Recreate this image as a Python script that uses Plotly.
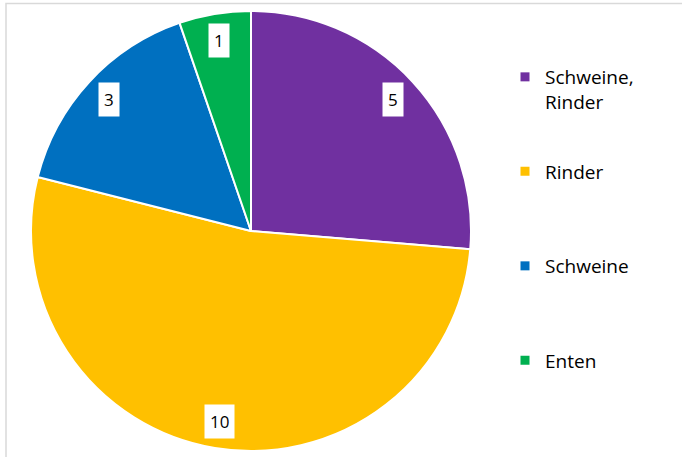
import math
import plotly.graph_objects as go

categories = ["Schweine,<br>Rinder", "Rinder", "Schweine", "Enten"]
values = [5, 10, 3, 1]
colors = ["#7030A0", "#FFC000", "#0070C0", "#00B050"]

W, H = 682, 457
cx_px, cy_px, r_px = 251, 231, 220

fig = go.Figure()
fig.add_trace(go.Pie(
    values=values, labels=categories, sort=False, direction="clockwise",
    rotation=0, textinfo="none", hoverinfo="label+value",
    marker=dict(colors=colors, line=dict(color="white", width=2)),
    domain=dict(x=[(cx_px - r_px) / W, (cx_px + r_px) / W],
                y=[(H - cy_px - r_px) / H, (H - cy_px + r_px) / H]),
    showlegend=False,
))

legend_font = dict(family="Open Sans", size=19, color="#000000")
legend_layouts = {}
first_center = 78
step = 94.5
for i, (c, col) in enumerate(zip(categories, colors)):
    lname = "legend" if i == 0 else f"legend{i + 1}"
    fig.add_trace(go.Scatter(
        x=[None], y=[None], mode="markers", name=c, legend=lname,
        marker=dict(symbol="square", size=9, color=col),
    ))
    top = first_center + i * step - 20
    legend_layouts[lname] = dict(
        x=505 / W, y=(H - top) / H, xanchor="left", yanchor="top",
        valign="top", itemwidth=30, font=legend_font, bgcolor="rgba(0,0,0,0)",
    )

# data labels
total = sum(values)
cum = 0
annotations = []
for v in values:
    mid = (cum + v / 2) / total * 2 * math.pi
    cum += v
    rr = 0.88 * r_px
    px = cx_px + rr * math.sin(mid)
    py = cy_px - rr * math.cos(mid)
    annotations.append(dict(
        x=px / W, y=(H - py) / H, xref="paper", yref="paper",
        xanchor="center", yanchor="middle",
        text=str(v), showarrow=False, bgcolor="white", borderpad=5,
        font=dict(family="Open Sans", size=17, color="#000000"),
    ))

fig.update_layout(
    width=W, height=H, margin=dict(l=0, r=0, t=0, b=0),
    paper_bgcolor="white", plot_bgcolor="white",
    xaxis=dict(visible=False), yaxis=dict(visible=False),
    annotations=annotations,
    shapes=[dict(type="rect", xref="paper", yref="paper",
                 x0=6 / W, y0=-0.1, x1=1.1, y1=(H - 3.5) / H,
                 line=dict(color="#D9D9D9", width=1.5), fillcolor="rgba(0,0,0,0)")],
    **legend_layouts,
)

fig.write_html("out.html", config={"displayModeBar": False},
               post_script="document.body.style.margin='0';")
